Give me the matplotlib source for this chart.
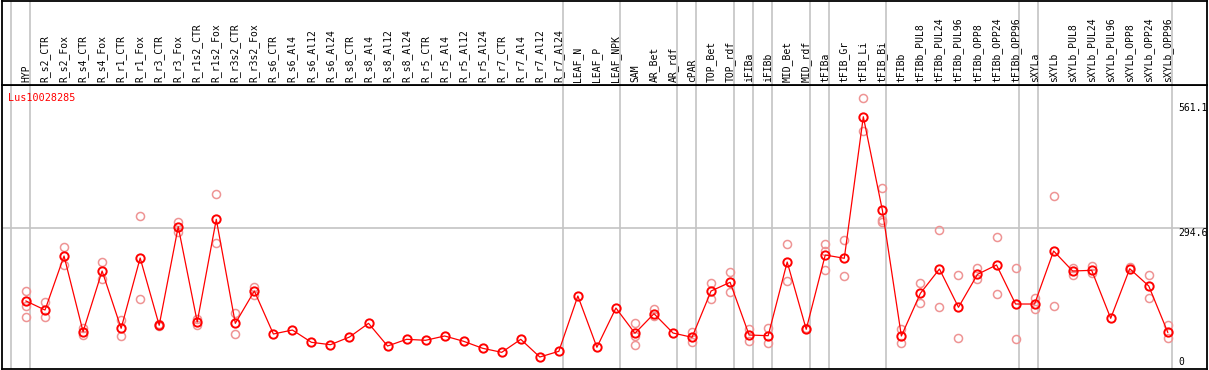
import numpy as np
import matplotlib.pyplot as plt
import matplotlib.transforms as mtransforms

# Muestras (eje x)
categorias = [
    'HYP', 'R_s2_CTR', 'R_s2_Fox', 'R_s4_CTR', 'R_s4_Fox', 'R_r1_CTR', 'R_r1_Fox',
    'R_r3_CTR', 'R_r3_Fox', 'R_r1s2_CTR', 'R_r1s2_Fox', 'R_r3s2_CTR', 'R_r3s2_Fox',
    'R_s6_CTR', 'R_s6_Al4', 'R_s6_Al12', 'R_s6_Al24', 'R_s8_CTR', 'R_s8_Al4',
    'R_s8_Al12', 'R_s8_Al24', 'R_r5_CTR', 'R_r5_Al4', 'R_r5_Al12', 'R_r5_Al24',
    'R_r7_CTR', 'R_r7_Al4', 'R_r7_Al12', 'R_r7_Al24', 'LEAF_N', 'LEAF_P', 'LEAF_NPK',
    'SAM', 'AR_Bet', 'AR_rdf', 'cPAR', 'TOP_Bet', 'TOP_rdf', 'iFIBa', 'iFIBb',
    'MID_Bet', 'MID_rdf', 'tFIBa', 'tFIB_Gr', 'tFIB_Li', 'tFIB_Bi', 'tFIBb',
    'tFIBb_PUL8', 'tFIBb_PUL24', 'tFIBb_PUL96', 'tFIBb_OPP8', 'tFIBb_OPP24',
    'tFIBb_OPP96', 'sXYLa', 'sXYLb', 'sXYLb_PUL8', 'sXYLb_PUL24', 'sXYLb_PUL96',
    'sXYLb_OPP8', 'sXYLb_OPP24', 'sXYLb_OPP96',
]

# Media por muestra
medias = [
    146.0, 127.5, 238.0, 83.2, 207.3, 90.1, 233.9, 96.3, 297.9, 103.0, 313.0,
    100.3, 166.4, 78.5, 86.6, 61.5, 56.6, 72.3, 100.3, 53.9, 67.6, 65.6, 74.4,
    63.5, 49.2, 41.0, 67.6, 31.4, 43.1, 156.2, 51.3, 131.6, 79.9, 120.0, 80.5,
    71.7, 166.4, 184.2, 76.4, 75.0, 225.7, 88.1, 240.0, 233.3, 522.8, 332.0,
    74.4, 161.7, 211.4, 133.1, 200.5, 219.6, 139.8, 139.8, 248.2, 207.3, 208.7,
    110.6, 212.0, 176.6, 81.9,
]

# Réplicas por muestra
replicas = [
    [166.4, 136.3, 113.2], [143.9, 113.2], [256.4, 219.6], [91.3, 76.4],
    [225.7, 190.3], [107.1, 74.4], [319.8, 149.4], [98.0, 94.0], [307.5, 287.7],
    [108.5, 97.5], [364.8, 264.0], [122.0, 77.9], [173.9, 158.2],
    [], [], [], [], [], [], [], [], [], [], [], [], [], [], [], [], [], [], [],
    [100.3, 74.4, 56.0], [130.2, 114.7], [], [81.9, 62.1], [182.1, 150.6],
    [204.6, 163.7], [89.3, 64.8], [90.7, 59.5], [262.5, 186.3], [90.7],
    [262.5, 248.8, 208.7], [270.7, 197.1], [561.1, 493.6], [376.4, 312.0, 308.0],
    [88.1, 59.5], [182.1, 141.3], [291.2, 133.1], [198.5, 69.7], [213.4, 190.3],
    [276.2, 160.3], [213.4, 67.6], [151.5, 129.0], [360.1, 135.7], [213.4, 199.1],
    [217.5, 203.8], [], [216.1], [198.5, 151.5], [97.5, 69.7],
]

# Separadores de grupo (después de estos índices)
separadores = [-1, 0, 28, 31, 34, 35, 37, 38, 39, 41, 42, 45, 52, 53, 60]

gen = 'Lus10028285'
y_ticks = ['561.1', '294.6', '0']

W, H = 1209, 370
fig = plt.figure(figsize=(W / 100, H / 100), dpi=100)
x0, x1 = 2, 1207
y_head, y_bot = 85, 369
ax = fig.add_axes([x0 / W, (H - y_bot) / H, (x1 - x0) / W, (y_bot - y_head) / H])
axh = fig.add_axes([x0 / W, (H - y_head) / H, (x1 - x0) / W, (y_head - 0.5) / H], sharex=ax)

ax.set_xlim(-1.26, 62.06)
ax.set_ylim(6.9, 587.7)
axh.set_ylim(0, 1)

gris = '#c4c4c4'
for a in (ax, axh):
    for s in a.spines.values():
        s.set_linewidth(1.3)
        s.set_color('black')
    a.set_xticks([])
    a.set_yticks([])
    for k in separadores:
        a.axvline(k + 0.2, color=gris, lw=1.2, zorder=0)

ax.axhline(294.6, color=gris, lw=1.2, zorder=0)

x = np.arange(len(categorias))

# réplicas
for i, reps in enumerate(replicas):
    if reps:
        ax.plot([i] * len(reps), reps, 'o', ms=5.8, mfc='none', mec='#ee9494', mew=1.1, zorder=2)

# medias
ax.plot(x, medias, '-', color='red', lw=0.9, zorder=3)
ax.plot(x, medias, 'o', ms=6, mfc='none', mec='red', mew=1.4, zorder=4)

fuente = 'DejaVu Sans Mono'
trans_h = mtransforms.blended_transform_factory(axh.transData, axh.transAxes)
for i, c in enumerate(categorias):
    axh.text(i, 0.035, c, rotation=90, ha='center', va='bottom', fontsize=7.0,
             family=fuente, transform=trans_h)

ax.text(0.005, 0.955, gen, color='red', fontsize=7.3, family=fuente,
        transform=ax.transAxes, ha='left', va='center')

trans = mtransforms.blended_transform_factory(ax.transData, ax.transAxes)
for lbl, yf in zip(y_ticks, [0.92, 0.48, 0.025]):
    ax.text(60.54, yf, lbl, fontsize=7.0, family=fuente, transform=trans,
            ha='left', va='center')

fig.savefig('out.png', dpi=100)
